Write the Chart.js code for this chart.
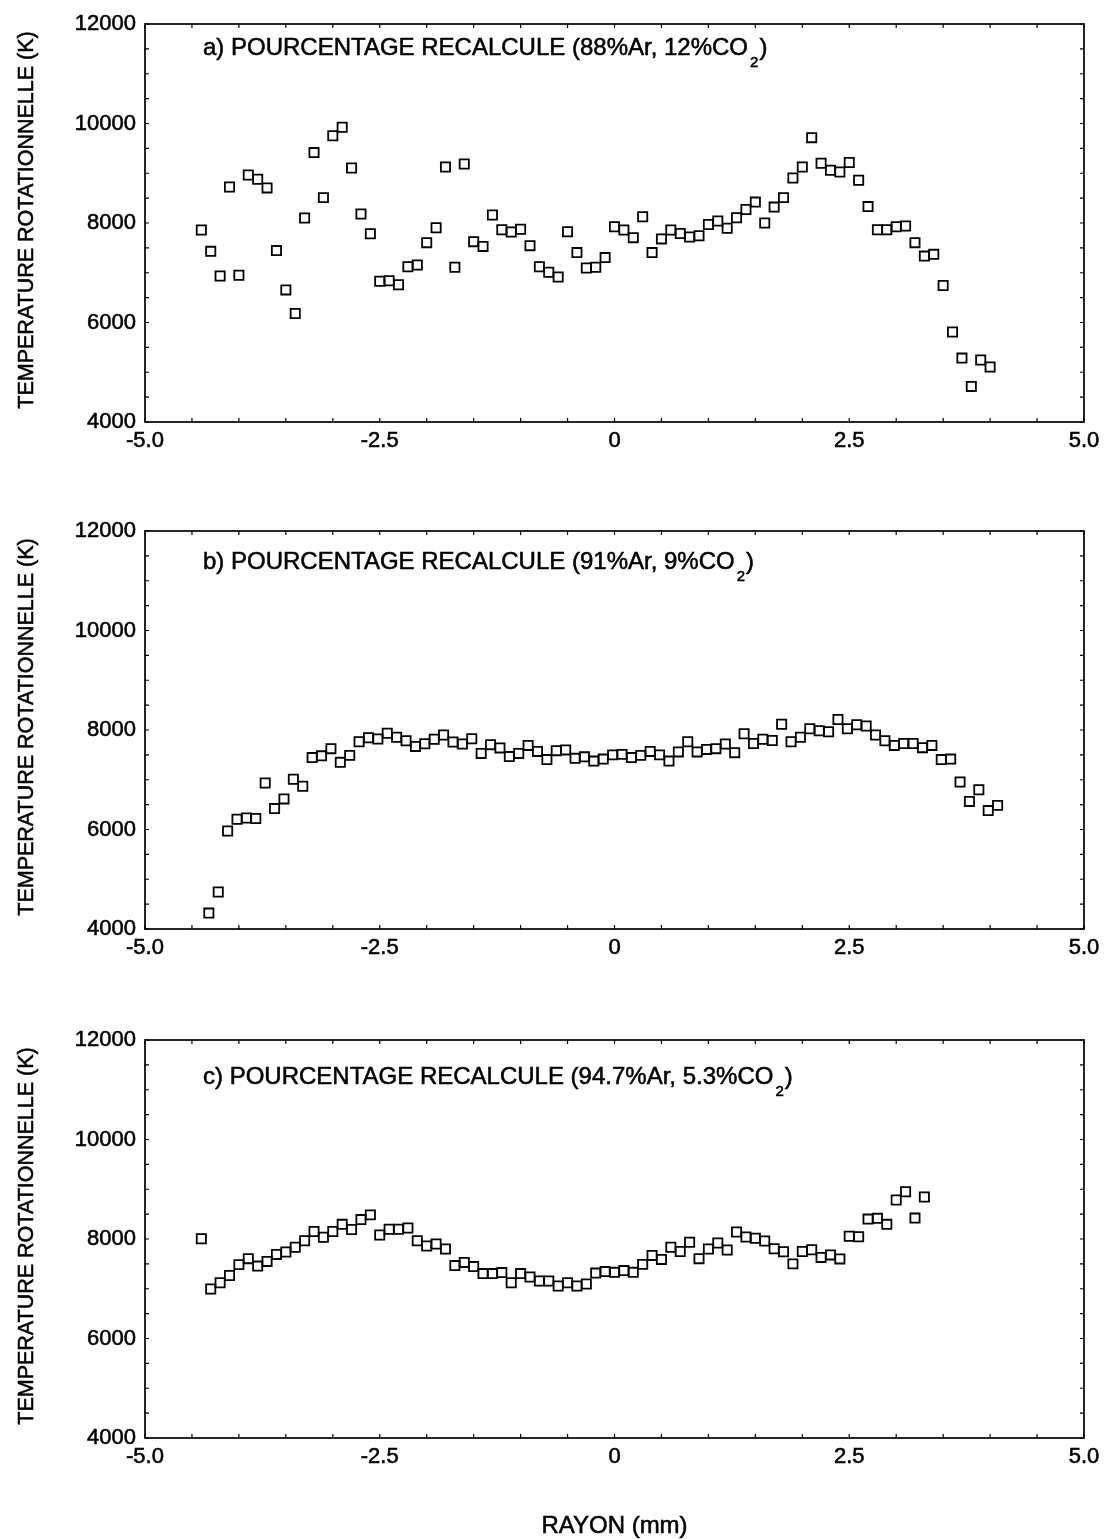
<!DOCTYPE html>
<html>
<head>
<meta charset="utf-8">
<script src="https://cdn.jsdelivr.net/npm/chart.js@4/dist/chart.umd.min.js"></script>
<style>
  html, body { margin: 0; padding: 0; background: #fff; overflow: hidden; }
  .panel { position: absolute; left: 0; width: 1106px; }
</style>
</head>
<body>
<div class="panel" style="top:0px;height:470px;"><canvas id="ca"></canvas></div>
<div class="panel" style="top:507px;height:470px;"><canvas id="cb"></canvas></div>
<div class="panel" style="top:1016px;height:526px;"><canvas id="cc"></canvas></div>
<script>
// ---------- data ----------
const xTickValues = [-5, -2.5, 0, 2.5, 5];
const xTickLabels = ['-5.0', '-2.5', '0', '2.5', '5.0'];
const yTickValues = [4000, 6000, 8000, 10000, 12000];

const panelTitles = [
  'a) POURCENTAGE RECALCULE (88%Ar, 12%CO',
  'b) POURCENTAGE RECALCULE (91%Ar, 9%CO',
  'c) POURCENTAGE RECALCULE (94.7%Ar, 5.3%CO'
];
const yTitle = 'TEMPERATURE ROTATIONNELLE (K)';
const xTitle = 'RAYON (mm)';

// panel a : 88% Ar, 12% CO2
const rayonA = [-4.4,-4.3,-4.2,-4.1,-4.0,-3.9,-3.8,-3.7,-3.6,-3.5,-3.4,-3.3,-3.2,-3.1,-3.0,-2.9,-2.8,-2.7,-2.6,-2.5,-2.4,-2.3,-2.2,-2.1,-2.0,
  -1.9,-1.8,-1.7,-1.6,-1.5,-1.4,-1.3,-1.2,-1.1,-1.0,-0.9,-0.8,-0.7,-0.6,-0.5,-0.4,-0.3,-0.2,-0.1,0.0,0.1,0.2,0.3,0.4,0.5,0.6,0.7,0.8,0.9,1.0,1.1,
  1.2,1.3,1.4,1.5,1.6,1.7,1.8,1.9,2.0,2.1,2.2,2.3,2.4,2.5,2.6,2.7,2.8,2.9,3.0,3.1,3.2,3.3,3.4,3.5,3.6,3.7,3.8,3.9,4.0];
const tempA = [7860,7430,6935,8725,6950,8965,8880,8705,7445,6655,6180,8100,9415,8510,9755,9925,9105,8180,7785,6830,6840,6760,7120,7155,7605,
  7905,9125,7110,9185,7625,7530,8160,7865,7820,7875,7545,7120,7010,6915,7825,7405,7095,7110,7305,7925,7860,7705,8125,7405,7680,7860,7790,7720,7745,7970,8040,
  7895,8105,8270,8420,8000,8320,8510,8905,9125,9715,9200,9060,9025,9215,8860,8330,7865,7865,7925,7940,7605,7335,7370,6745,5810,5285,4715,5245,5105];

// panel b : 91% Ar, 9% CO2
const rayonB = [-4.32,-4.22,-4.12,-4.02,-3.92,-3.82,-3.72,-3.62,-3.52,-3.42,-3.32,-3.22,-3.12,-3.02,-2.92,-2.82,-2.72,-2.62,-2.52,-2.42,-2.32,-2.22,-2.12,-2.02,
  -1.92,-1.82,-1.72,-1.62,-1.52,-1.42,-1.32,-1.22,-1.12,-1.02,-0.92,-0.82,-0.72,-0.62,-0.52,-0.42,-0.32,-0.22,-0.12,-0.02,0.08,0.18,0.28,0.38,0.48,0.58,0.68,0.78,0.88,0.98,1.08,
  1.18,1.28,1.38,1.48,1.58,1.68,1.78,1.88,1.98,2.08,2.18,2.28,2.38,2.48,2.58,2.68,2.78,2.88,2.98,3.08,3.18,3.28,3.38,3.48,3.58,3.68,3.78,3.88,3.98,4.08];
const tempB = [4320,4745,5970,6205,6230,6220,6935,6420,6615,7010,6870,7445,7480,7625,7350,7490,7765,7845,7820,7935,7855,7785,7670,7725,
  7815,7900,7760,7720,7825,7530,7705,7640,7465,7530,7690,7570,7405,7585,7600,7430,7460,7375,7415,7500,7510,7445,7490,7570,7500,7375,7560,7765,7560,7610,7625,
  7720,7545,7925,7730,7815,7790,8115,7765,7855,8025,7985,7965,8210,8025,8105,8080,7900,7785,7690,7730,7730,7645,7690,7405,7415,6955,6565,6800,6380,6485];

// panel c : 94.7% Ar, 5.3% CO2
const rayonC = [-4.4,-4.3,-4.2,-4.1,-4.0,-3.9,-3.8,-3.7,-3.6,-3.5,-3.4,-3.3,-3.2,-3.1,-3.0,-2.9,-2.8,-2.7,-2.6,-2.5,-2.4,-2.3,-2.2,-2.1,-2.0,
  -1.9,-1.8,-1.7,-1.6,-1.5,-1.4,-1.3,-1.2,-1.1,-1.0,-0.9,-0.8,-0.7,-0.6,-0.5,-0.4,-0.3,-0.2,-0.1,0.0,0.1,0.2,0.3,0.4,0.5,0.6,0.7,0.8,0.9,1.0,1.1,
  1.2,1.3,1.4,1.5,1.6,1.7,1.8,1.9,2.0,2.1,2.2,2.3,2.4,2.5,2.6,2.7,2.8,2.9,3.0,3.1,3.2,3.3];
const tempC = [8005,6995,7120,7265,7485,7605,7455,7550,7690,7740,7835,7965,8150,8035,8150,8295,8190,8390,8485,8080,8195,8195,8220,7965,7860,
  7900,7800,7465,7530,7445,7305,7305,7325,7120,7305,7235,7155,7155,7055,7120,7055,7095,7315,7345,7330,7365,7330,7490,7670,7590,7835,7750,7935,7605,7800,7920,
  7780,8140,8040,8015,7960,7805,7745,7500,7750,7785,7630,7680,7600,8055,8045,8400,8415,8295,8785,8950,8420,8845];

// ---------- drawing ----------
const FONT = '"Liberation Sans", Arial, Helvetica, sans-serif';
const STROKE = 0.55;

function boldText(ctx, txt, x, y) {
  ctx.fillText(txt, x, y);
  ctx.strokeText(txt, x, y);
}

const framePlugin = {
  id: 'frame',
  afterDraw(chart, args, opts) {
    const {ctx, chartArea: a, scales: {x, y}} = chart;
    ctx.save();
    ctx.strokeStyle = '#000';
    ctx.lineWidth = 1.7;
    ctx.strokeRect(a.left, a.top, a.right - a.left, a.bottom - a.top);
    ctx.lineWidth = 1.2;
    ctx.beginPath();
    for (let i = 0; i <= 20; i++) {
      const px = x.getPixelForValue(-5 + i * 0.5);
      ctx.moveTo(px, a.bottom); ctx.lineTo(px, a.bottom - 4);
      ctx.moveTo(px, a.top); ctx.lineTo(px, a.top + 4);
    }
    for (let i = 0; i <= 16; i++) {
      const py = y.getPixelForValue(4000 + i * 500);
      ctx.moveTo(a.left, py); ctx.lineTo(a.left + 4, py);
      ctx.moveTo(a.right, py); ctx.lineTo(a.right - 4, py);
    }
    ctx.stroke();

    ctx.fillStyle = '#000';
    ctx.lineWidth = STROKE;
    // panel title with subscript
    ctx.textAlign = 'left';
    ctx.textBaseline = 'alphabetic';
    const bx = a.left + 58, by = a.top + opts.baseline;
    ctx.font = '24px ' + FONT;
    boldText(ctx, opts.text, bx, by);
    const w = ctx.measureText(opts.text).width;
    ctx.font = '15px ' + FONT;
    boldText(ctx, '2', bx + w + 2, by + 12);
    const w2 = ctx.measureText('2').width;
    ctx.font = '24px ' + FONT;
    boldText(ctx, ')', bx + w + w2 + 3, by);

    // y axis title
    ctx.save();
    ctx.translate(27, (a.top + a.bottom) / 2 - 3);
    ctx.rotate(-Math.PI / 2);
    ctx.textAlign = 'center';
    ctx.textBaseline = 'middle';
    ctx.font = '21.5px ' + FONT;
    boldText(ctx, yTitle, 0, 0);
    ctx.restore();

    // x axis title (bottom panel only)
    if (opts.xTitle) {
      ctx.textAlign = 'center';
      ctx.textBaseline = 'middle';
      ctx.font = '24px ' + FONT;
      boldText(ctx, xTitle, (a.left + a.right) / 2, a.bottom + 88);
    }
    ctx.restore();
  }
};

function makeChart(id, xs, ys, title, baseline, xAxisHeight, showXTitle) {
  const pts = xs.map((v, i) => ({x: v, y: ys[i]}));
  return new Chart(document.getElementById(id), {
    type: 'scatter',
    data: { datasets: [{
      data: pts,
      pointStyle: 'rect',
      pointRadius: 6.5,
      pointHoverRadius: 6.5,
      borderColor: '#000',
      backgroundColor: 'rgba(255,255,255,0)',
      pointBorderWidth: 1.8,
      showLine: false
    }]},
    options: {
      responsive: true,
      maintainAspectRatio: false,
      animation: false,
      devicePixelRatio: 1,
      layout: { padding: { top: 24, right: 22, left: 0, bottom: 0 } },
      plugins: {
        legend: { display: false },
        tooltip: { enabled: false },
        frame: { text: title, baseline: baseline, xTitle: showXTitle }
      },
      scales: {
        x: {
          type: 'linear', min: -5, max: 5,
          grid: { display: false, drawTicks: false },
          border: { display: false },
          afterBuildTicks: s => { s.ticks = xTickValues.map(v => ({value: v})); },
          afterFit: s => { s.height = xAxisHeight; },
          ticks: {
            padding: 6, color: '#000', maxRotation: 0, autoSkip: false,
            textStrokeColor: '#000', textStrokeWidth: STROKE,
            font: { family: FONT, size: 22 },
            callback: (v, i) => xTickLabels[i]
          },
          title: { display: false }
        },
        y: {
          type: 'linear', min: 4000, max: 12000,
          grid: { display: false, drawTicks: false },
          border: { display: false },
          afterBuildTicks: s => { s.ticks = yTickValues.map(v => ({value: v})); },
          afterFit: s => { s.width = 145; },
          ticks: {
            padding: 9, color: '#000',
            textStrokeColor: '#000', textStrokeWidth: STROKE,
            font: { family: FONT, size: 22 },
            callback: v => String(v)
          },
          title: { display: false }
        }
      }
    },
    plugins: [framePlugin]
  });
}

makeChart('ca', rayonA, tempA, panelTitles[0], 31, 48, false);
makeChart('cb', rayonB, tempB, panelTitles[1], 38, 48, false);
makeChart('cc', rayonC, tempC, panelTitles[2], 44, 104, true);
</script>
</body>
</html>
